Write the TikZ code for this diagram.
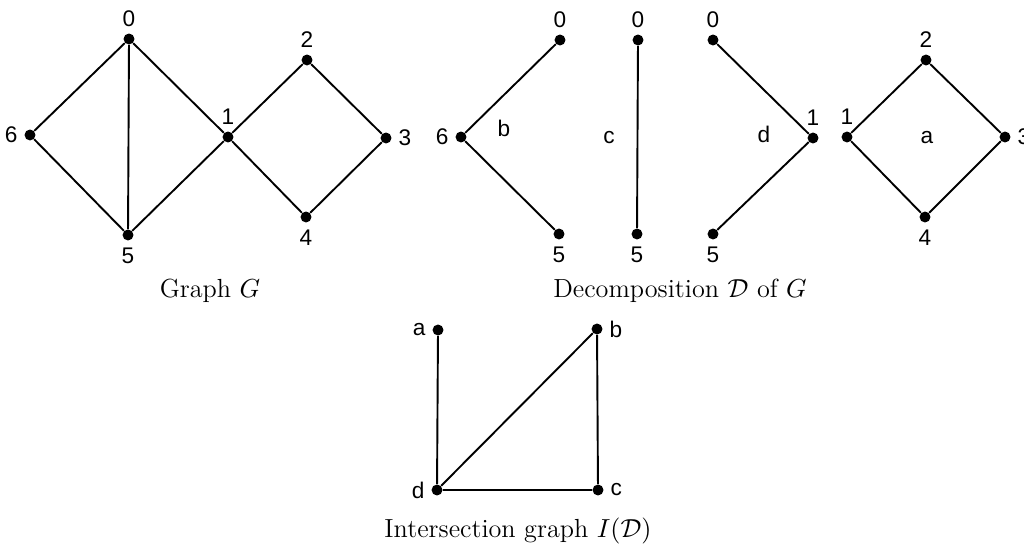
\documentclass[tikz,border=0pt]{standalone}
\usepackage{fontspec}
\usepackage{amsmath,amssymb}
\newfontfamily\lblfont{Liberation Sans}
\usetikzlibrary{positioning}

\begin{document}
\begin{tikzpicture}[x=0.42pt,y=-0.42pt,
 every label/.style={font=\lblfont\fontsize{9.5}{11}\selectfont,inner sep=0pt},
 label distance=2.6pt,
 vtx/.style={circle,fill,inner sep=0pt,minimum size=4.6pt},
 tag/.style={font=\lblfont\fontsize{9.5}{11}\selectfont,inner sep=0pt},
 captxt/.style={font=\fontsize{11}{13}\selectfont,inner sep=0pt},
 edge/.style={line width=0.8pt}]
\useasboundingbox (0,0) rectangle (1024,546);
% graph G
\node[vtx,label=above:0] (G0) at (129,39) {};
\node[vtx,label=left:6] (G6) at (30,135) {};
\node[vtx,label=below:5] (G5) at (128,235) {};
\node[vtx,label=above:1] (G1) at (228,137) {};
\node[vtx,label=above:2] (G2) at (307,60) {};
\node[vtx,label=right:3] (G3) at (386,138) {};
\node[vtx,label=below:4] (G4) at (306,217) {};
\draw[edge] (G0) -- (G6) -- (G5) -- (G1) -- (G0) -- (G5);
\draw[edge] (G1) -- (G2) -- (G3) -- (G4) -- (G1);
\node[captxt] (capG) at (210,291) {Graph $G$};
% decomposition
\node[vtx,label=above:0] (b0) at (560,40) {};
\node[vtx,label=left:6] (b6) at (461,137) {};
\node[vtx,label=below:5] (b5) at (559,234) {};
\draw[edge] (b0) -- (b6) -- (b5);
\node[tag] (bl) at (504,128) {b};
\node[vtx,label=above:0] (c0) at (638,40) {};
\node[vtx,label=below:5] (c5) at (637,234) {};
\draw[edge] (c0) -- (c5);
\node[tag] (cl) at (609,138) {c};
\node[vtx,label=above:0] (d0) at (713,40) {};
\node[vtx,label=above:1] (d1) at (813,138) {};
\node[vtx,label=below:5] (d5) at (713,234) {};
\draw[edge] (d0) -- (d1) -- (d5);
\node[tag] (dl) at (764,134) {d};
\node[vtx,label=above:1] (a1) at (847,137) {};
\node[vtx,label=above:2] (a2) at (926,60) {};
\node[vtx,label=right:3] (a3) at (1005,137) {};
\node[vtx,label=below:4] (a4) at (925,217) {};
\draw[edge] (a1) -- (a2) -- (a3) -- (a4) -- (a1);
\node[tag] (al) at (927,138) {a};
\node[captxt] (capD) at (680,291) {Decomposition $\mathcal{D}$ of $G$};
% intersection graph
\node[vtx,label=left:a] (Ia) at (438,330) {};
\node[vtx,label=right:b] (Ib) at (597,329) {};
\node[vtx,label=left:d] (Id) at (437,490) {};
\node[vtx,label=right:c] (Ic) at (598,490) {};
\draw[edge] (Ia) -- (Id) -- (Ic) -- (Ib) -- (Id);
\node[captxt] (capI) at (518,531) {Intersection graph $I(\mathcal{D})$};
\end{tikzpicture}
\end{document}
